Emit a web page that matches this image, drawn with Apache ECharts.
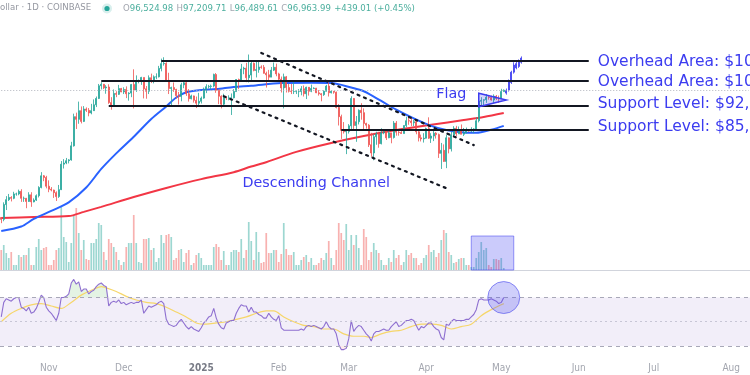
<!DOCTYPE html>
<html><head><meta charset="utf-8">
<script src="https://cdn.jsdelivr.net/npm/echarts@6/dist/echarts.min.js"></script>
<style>html,body{margin:0;padding:0;background:#fff}#c{width:750px;height:375px}</style>
</head><body><div id="c"></div>
<script>
// ---- axis categories / tick labels ----
const startDay = Date.UTC(2024, 9, 13);
const dayCount = 300;
const tickLabels = [['2024-11-01','Nov'],['2024-12-01','Dec'],['2025-01-01','2025'],['2025-02-01','Feb'],['2025-03-01','Mar'],['2025-04-01','Apr'],['2025-05-01','May'],['2025-06-01','Jun'],['2025-07-01','Jul'],['2025-08-01','Aug']];

// ---- daily BTC/USD candles, thousands of USD, from 2024-10-13 to 2025-05-02 ----
const firstOpen = 63.2;
const closes = [
62.8,66.0,67.1,67.6,67.4,68.4,68.4,69.0,67.4,67.4,66.7,68.2,66.6,67.0,68.0,69.9,72.7,72.3,70.2,
69.5,69.3,68.7,67.8,69.4,75.6,75.9,76.5,76.7,80.4,88.7,87.9,90.5,87.3,91.0,90.6,89.8,90.5,92.3,94.3,98.4,98.9,97.7,98.0,93.0,91.9,95.9,95.6,97.5,96.4,
97.2,95.8,96.0,98.8,97.0,99.9,99.9,101.2,97.4,96.6,101.1,100.0,101.4,101.4,104.3,106.0,106.1,100.2,97.5,97.8,97.2,95.2,94.9,98.7,99.4,95.8,94.2,95.1,93.7,92.8,93.4,
94.4,96.9,98.1,98.2,98.3,102.2,96.9,95.0,92.5,94.7,94.5,94.5,94.5,96.5,100.5,99.9,104.1,104.4,101.1,102.0,106.1,103.6,103.9,104.8,104.7,102.6,102.1,101.3,103.7,104.7,102.4,
100.6,97.7,101.4,97.8,96.6,96.5,96.5,96.5,96.5,97.4,95.8,97.9,96.6,97.5,97.6,96.1,95.8,95.5,96.6,98.3,96.1,96.6,96.3,91.5,88.7,84.7,84.3,84.4,
86.0,94.3,86.1,87.2,90.6,89.9,86.7,86.2,80.7,78.5,82.9,83.7,81.0,84.0,84.3,82.6,84.0,82.7,86.8,84.2,84.1,83.8,86.1,87.5,87.4,86.9,87.2,84.3,82.6,82.3,82.5,
85.2,82.5,83.1,83.9,83.5,78.4,79.2,76.3,82.6,79.6,83.4,85.3,83.7,84.5,83.6,84.0,84.9,84.5,85.0,85.1,87.5,93.4,93.7,93.9,94.7,94.6,93.8,95.0,94.3,94.2,
96.5,96.964];
const highs = [
63.3,66.5,67.9,68.4,67.9,68.9,68.7,69.4,69.5,67.8,67.5,68.8,68.8,67.4,68.3,70.2,73.6,72.9,72.7,
71.6,70.0,69.4,69.0,70.5,76.4,76.9,77.2,76.9,81.5,89.6,89.9,93.3,91.8,91.9,91.5,91.3,92.6,94.0,94.9,99.0,99.6,99.0,98.6,98.9,94.7,97.2,96.6,98.7,97.7,
97.9,98.2,96.3,99.0,104.0,101.9,100.5,101.4,101.2,98.3,101.9,102.5,101.9,102.6,105.2,107.8,108.3,106.5,102.8,98.1,99.5,97.4,96.4,99.4,99.9,99.9,97.3,95.5,95.2,94.9,96.1,
94.9,97.8,98.9,98.7,98.8,102.5,102.7,97.3,95.3,95.8,94.9,95.3,95.9,97.3,100.6,100.8,105.9,104.9,106.3,109.3,107.2,106.4,106.8,107.1,105.4,105.5,103.2,103.8,104.8,106.4,106.0,
102.8,101.5,102.5,101.7,99.0,99.0,100.1,96.9,97.3,98.3,98.5,98.1,98.0,98.8,97.9,97.7,97.0,96.0,96.9,98.7,99.5,96.9,96.6,96.5,92.5,89.3,87.1,85.0,
86.5,95.0,94.4,88.9,90.9,92.8,91.2,86.9,86.5,84.0,83.6,84.3,84.3,85.3,84.6,85.0,84.7,84.0,87.4,87.4,84.8,84.5,86.1,88.7,88.5,88.3,87.8,87.5,84.6,83.5,83.9,
85.5,88.5,83.9,84.7,84.2,83.8,81.2,80.8,83.5,82.7,84.3,85.9,86.0,85.8,86.4,85.4,85.5,85.1,85.6,85.3,88.5,93.9,94.7,94.0,95.7,95.3,95.2,95.6,95.4,95.2,
97.4,97.21];
const lows = [
62.0,62.4,64.8,66.8,66.7,67.2,68.0,68.1,66.6,66.6,65.2,66.6,65.5,66.5,66.8,67.6,69.7,71.4,69.7,
68.8,69.0,67.5,66.8,67.5,69.3,74.5,75.6,75.8,76.5,80.2,85.1,86.6,86.7,87.1,90.1,88.8,89.4,90.4,91.6,94.1,97.2,97.3,95.8,92.6,90.8,91.8,94.7,95.4,96.3,
95.7,94.4,93.6,94.7,91.2,96.4,99.2,98.7,94.3,94.2,95.7,99.3,99.2,100.6,101.2,103.3,105.3,100.0,95.7,92.2,96.4,94.2,92.4,93.4,97.6,95.1,93.3,94.0,93.0,91.3,92.0,
92.7,94.2,96.0,97.5,97.3,97.9,96.1,92.5,91.2,92.2,93.8,93.7,89.2,94.3,96.5,97.3,99.9,102.3,99.6,99.5,100.1,103.3,101.2,102.8,104.2,102.5,97.8,100.3,101.3,103.4,101.6,
100.3,96.2,91.2,96.2,96.2,95.7,95.7,95.7,94.7,95.3,94.9,94.1,95.2,96.3,97.3,96.0,95.2,93.4,95.1,96.5,94.9,95.9,95.8,91.2,86.1,82.3,83.8,78.2,
83.8,85.1,85.1,81.5,86.4,87.8,84.7,85.2,80.1,77.5,76.6,80.7,79.9,80.8,83.6,82.0,82.5,81.1,82.4,83.2,83.2,83.7,83.8,85.6,86.3,85.9,85.9,83.6,81.6,81.6,81.3,
82.4,82.3,81.2,81.7,82.4,77.2,74.4,76.2,74.6,78.4,78.9,82.8,83.1,83.7,83.6,83.1,83.9,84.3,84.2,83.9,85.1,87.0,91.7,91.7,92.9,93.9,93.6,92.9,93.8,92.9,
94.2,96.49];
// relative daily volume
const volumes = [
20,25,17,12,18,5,5,15,13,15, 15,22,5,5,23,31,20,22,23,5, 5,10,20,22,63,33,28,8,27,55, 62,37,20,30,11,10,27,27,31,47,
45,18,10,31,27,23,18,10,5,8, 23,27,27,55,27,8,7,31,31,32, 20,22,8,12,35,27,35,36,33,10, 12,20,21,8,17,20,5,7,15,17,
12,5,5,5,5,23,26,23,10,19, 5,5,18,20,20,18,31,12,20,48, 29,10,38,18,7,8,37,17,17,20, 20,8,16,47,21,15,15,18,5,5,
10,13,15,8,12,5,5,7,12,10, 17,29,12,5,20,47,37,30,46,20, 35,25,35,22,5,41,33,10,18,27, 20,17,10,5,5,12,8,20,12,15,
5,8,20,15,17,12,12,5,7,12, 15,25,18,20,13,17,30,40,37,18, 15,7,8,11,12,12,5,5,3,3, 12,18,28,20,22,5,3,11,11,10, 12,2];
// RSI(14)
const rsi = [
54,66,69,68,67,69,70,70,62,61, 59,62,57,58,61,66,72,70,62,59, 57,54,51,57,70,70,71,73,82,85, 81,83,75,77,77,73,75,76,79,81,
82,80,79,63,66,67,66,68,65,66, 64,65,66,65,66,66,68,57,60,63, 62,63,64,66,67,65,52,48,47,46, 47,50,52,49,46,44,46,44,43,42,
45,49,51,54,55,61,53,48,45,44, 49,50,51,51,57,61,64,63,63,58, 62,58,58,56,55,53,53,57,54,52, 51,55,45,43,43,43,43,43,43,43,
44,43,46,47,46,47,46,45,44,46, 50,46,44,44,40,31,27,27,28,36, 51,42,45,47,46,43,40,38,34,40, 42,42,43,44,43,43,46,48,50,46,
47,49,51,51,52,51,47,43,46,45, 47,49,49,46,44,43,37,35,48,47, 50,52,51,51,51,51,52,52,54,56, 60,68,69,68,68,68,69,68,67,65, 66,70];
const rsiMA = [['2024-10-13',50],['2024-10-17',57],['2024-10-21',61],['2024-10-25',64],['2024-10-29',65],['2024-11-02',63],['2024-11-06',61],['2024-11-10',66],['2024-11-14',72],['2024-11-18',76],['2024-11-22',79],['2024-11-24',78],['2024-11-28',75],['2024-12-02',71],['2024-12-06',68],['2024-12-10',66],['2024-12-14',65],['2024-12-18',62],['2024-12-22',58],['2024-12-26',54],['2024-12-30',49],['2025-01-03',48],['2025-01-07',49],['2025-01-11',50],['2025-01-15',52],['2025-01-19',54],['2025-01-23',57],['2025-01-27',59],['2025-01-30',59],['2025-02-03',54],['2025-02-07',50],['2025-02-11',47],['2025-02-15',46],['2025-02-19',44],['2025-02-23',44],['2025-02-27',40],['2025-03-03',38],['2025-03-07',38],['2025-03-10',37],['2025-03-14',40],['2025-03-18',42],['2025-03-22',43],['2025-03-26',46],['2025-03-30',48],['2025-04-03',48],['2025-04-07',47],['2025-04-11',44],['2025-04-15',46],['2025-04-19',48],['2025-04-23',55],['2025-04-27',60],['2025-05-01',64],['2025-05-02',65]];
// moving averages of price (thousands USD)
const ma50 = [['2024-10-13',60.4],['2024-10-21',61.3],['2024-10-26',62.9],['2024-11-02',64.6],['2024-11-09',66.5],['2024-11-16',69.9],['2024-11-22',74.4],['2024-11-28',78.4],['2024-12-05',82.9],['2024-12-12',88.0],['2024-12-18',91.8],['2024-12-22',94.6],['2024-12-26',96.3],['2025-01-01',97.0],['2025-01-07',97.3],['2025-01-14',98.0],['2025-01-21',98.4],['2025-02-02',99.3],['2025-02-14',99.4],['2025-02-22',99.3],['2025-03-02',97.8],['2025-03-07',96.6],['2025-03-14',93.5],['2025-03-20',90.8],['2025-03-27',88.2],['2025-04-03',86.0],['2025-04-09',84.8],['2025-04-16',84.1],['2025-04-21',84.0],['2025-04-27',84.9],['2025-05-02',86.0]];
const ma200 = [['2024-10-13',63.1],['2024-10-26',63.3],['2024-11-09',63.5],['2024-11-15',64.4],['2024-11-22',65.5],['2024-12-05',67.7],['2024-12-18',69.8],['2025-01-01',71.9],['2025-01-14',73.6],['2025-01-21',75.0],['2025-01-26',75.9],['2025-02-08',78.8],['2025-02-22',81.2],['2025-03-07',83.1],['2025-03-20',84.8],['2025-04-03',86.3],['2025-04-16',87.7],['2025-04-24',88.6],['2025-05-02',89.8]];
// hand-drawn annotation candles after the last bar [date, open, close, low, high]
const drawnCandles = [['2025-05-03',96.0,96.9,95.5,97.5],['2025-05-04',97.0,99.7,96.5,100.5],['2025-05-05',99.5,103.0,99.0,103.5],['2025-05-06',103.0,105.5,102.5,106.5],['2025-05-07',104.5,106.0,104.0,106.8],['2025-05-08',105.0,107.0,104.5,107.5],['2025-05-09',106.5,108.0,106.0,108.6]];
// annotations
const lastClose = 96.964;
const levelLines = [['2024-12-16','2025-06-05',107,'Overhead Area: $107,000'],['2024-11-22','2025-06-05',100,'Overhead Area: $100,000'],['2024-11-25','2025-06-05',92,'Support Level: $92,000'],['2025-02-26','2025-06-05',85,'Support Level: $85,000']];
const channelLines = [[['2025-01-25',109.9],['2025-04-20',80.6]],[['2025-01-10',95.0],['2025-04-10',69.5]]];
const flagVertices = [['2025-04-22',95.95],['2025-04-22',91.7],['2025-05-03',93.8]];
const volumeBox = [['2025-04-19',34],['2025-05-06',0]];
const rsiCircle = [['2025-05-02',70]];
const textNotes = [['2025-02-16',71.0,'Descending Channel'],['2025-04-11',95.7,'Flag']];

// ---- build ----
const dates = [];
for (let i = 0; i < dayCount; i++) dates.push(new Date(startDay + i * 86400000).toISOString().slice(0, 10));
const tickMap = {}; tickLabels.forEach(t => tickMap[t[0]] = t[1]);
const candles = closes.map((c, i) => [dates[i], i === 0 ? firstOpen : closes[i - 1], c, lows[i], highs[i]]);
const UP = '#26a69a', DOWN = '#ef5350', NOTE = '#3c3cf0';
const volData = volumes.map((v, i) => ({ value: [dates[i], v], itemStyle: { color: candles[i][2] >= candles[i][1] ? 'rgba(38,166,154,0.45)' : 'rgba(239,83,80,0.45)' } }));
const rsiData = rsi.map((v, i) => [dates[i], v]);
const obData = rsi.map((v, i) => [dates[i], Math.max(v, 70)]);
const osData = rsi.map((v, i) => [dates[i], Math.min(v, 30)]);

const chart = echarts.init(document.getElementById('c'), null, { renderer: 'canvas' });
const labelFont = "'DejaVu Sans Condensed','Liberation Sans Narrow',Roboto,sans-serif";
const noteFont = "'DejaVu Sans',Verdana,sans-serif";
const levelOffsets = [1, 1, -2, -2];

const markLines = levelLines.map((l, k) => [
  { coord: [l[0], l[2]], lineStyle: { color: '#131722', width: 2, type: 'solid' },
    label: { show: true, position: 'end', distance: 9, formatter: l[3], color: NOTE, fontSize: 15.5, fontFamily: noteFont, offset: [0, levelOffsets[k]] } },
  { coord: [l[1], l[2]] }
]).concat(channelLines.map(c => [
  { coord: c[0], lineStyle: { color: '#131722', width: 2.2, type: [2, 5], cap: 'round' }, label: { show: false } },
  { coord: c[1] }
])).concat([[{ coord: [dates[0], lastClose], lineStyle: { color: '#b2b5be', width: 1, type: [1, 2] }, label: { show: false } }, { coord: [dates[dayCount - 1], lastClose] }]]);

const option = {
  animation: false,
  backgroundColor: '#ffffff',
  grid: [
    { left: 0, right: 0, top: 20, height: 250, outerBoundsMode: 'none' },
    { left: 0, right: 0, top: 170, height: 100, outerBoundsMode: 'none' },
    { left: 0, right: 0, top: 270.3, height: 85.1, outerBoundsMode: 'none' }
  ],
  xAxis: [
    { type: 'category', gridIndex: 0, data: dates, axisLine: { show: true, lineStyle: { color: '#d1d4dc', width: 1 } }, axisTick: { show: false }, axisLabel: { show: false }, splitLine: { show: false } },
    { type: 'category', gridIndex: 1, data: dates, show: false },
    { type: 'category', gridIndex: 2, data: dates, axisLine: { show: false }, axisTick: { show: false }, splitLine: { show: false },
      axisLabel: { show: true, margin: 8, interval: (idx, val) => tickMap[val] !== undefined, fontSize: 10, color: '#a3a6af', fontFamily: labelFont,
        formatter: v => tickMap[v] === '2025' ? '{y|2025}' : (tickMap[v] || ''), rich: { y: { fontSize: 10, color: '#787b86', fontWeight: 'bold', fontFamily: labelFont } } } }
  ],
  yAxis: [
    { type: 'log', logBase: 10, gridIndex: 0, min: 52.97, max: 122.75, show: false, splitLine: { show: false } },
    { type: 'value', gridIndex: 1, min: 0, max: 100, show: false },
    { type: 'value', gridIndex: 2, min: 22.2, max: 92.5, show: false }
  ],
  series: [
    { type: 'bar', xAxisIndex: 1, yAxisIndex: 1, data: volData, barWidth: 1.7, silent: true, z: 1 },
    { type: 'line', xAxisIndex: 0, yAxisIndex: 0, data: ma200, symbol: 'none', lineStyle: { color: '#f23645', width: 2 }, smooth: 0.3, silent: true, z: 3 },
    { type: 'line', xAxisIndex: 0, yAxisIndex: 0, data: ma50, symbol: 'none', lineStyle: { color: '#2962ff', width: 2 }, smooth: 0.3, silent: true, z: 3 },
    { type: 'candlestick', xAxisIndex: 0, yAxisIndex: 0, data: candles, encode: { x: 0, y: [1, 2, 3, 4] }, barWidth: 1.6, silent: true, z: 4,
      itemStyle: { color: UP, color0: DOWN, borderColor: UP, borderColor0: DOWN, borderColorDoji: UP, borderWidth: 0.8 },
      markLine: { silent: true, symbol: ['none', 'none'], animation: false, data: markLines },
      markPoint: { silent: true, symbol: 'circle', symbolSize: 1, itemStyle: { color: 'rgba(0,0,0,0)' },
        data: textNotes.map(t => ({ coord: [t[0], t[1]], label: { show: true, position: 'inside', formatter: t[2], color: NOTE, fontSize: 14.3, fontFamily: noteFont } })) } },
    { type: 'candlestick', xAxisIndex: 0, yAxisIndex: 0, data: drawnCandles, encode: { x: 0, y: [1, 2, 3, 4] }, barWidth: 1.6, silent: true, z: 4,
      itemStyle: { color: NOTE, color0: NOTE, borderColor: NOTE, borderColor0: NOTE, borderColorDoji: NOTE, borderWidth: 0.8 } },
    { type: 'custom', xAxisIndex: 0, yAxisIndex: 0, data: [0], silent: true, z: 5,
      renderItem: (p, api) => ({ type: 'polygon', shape: { points: flagVertices.map(v => api.coord(v)) }, style: { fill: 'rgba(60,60,240,0.22)', stroke: NOTE, lineWidth: 1.5 } }) },
    { type: 'custom', xAxisIndex: 1, yAxisIndex: 1, data: [0], silent: true, z: 6,
      renderItem: (p, api) => { const a = api.coord(volumeBox[0]), b = api.coord(volumeBox[1]);
        return { type: 'rect', shape: { x: a[0], y: a[1], width: b[0] - a[0], height: b[1] - a[1] }, style: { fill: 'rgba(70,70,240,0.28)', stroke: 'rgba(70,70,240,0.55)', lineWidth: 1 } }; } },
    { type: 'line', xAxisIndex: 2, yAxisIndex: 2, data: obData, symbol: 'none', lineStyle: { width: 0 }, areaStyle: { origin: 70, color: 'rgba(76,175,80,0.22)' }, silent: true, z: 2 },
    { type: 'line', xAxisIndex: 2, yAxisIndex: 2, data: osData, symbol: 'none', lineStyle: { width: 0 }, areaStyle: { origin: 30, color: 'rgba(242,54,69,0.15)' }, silent: true, z: 2 },
    { type: 'line', xAxisIndex: 2, yAxisIndex: 2, data: rsiMA, symbol: 'none', smooth: 0.3, lineStyle: { color: '#f6d66a', width: 1.2 }, silent: true, z: 3 },
    { type: 'line', xAxisIndex: 2, yAxisIndex: 2, data: rsiData, symbol: 'none', lineStyle: { color: '#8e6fd0', width: 1.1 }, silent: true, z: 4,
      markArea: { silent: true, itemStyle: { color: 'rgba(126,87,194,0.1)' }, data: [[{ yAxis: 30 }, { yAxis: 70 }]] },
      markLine: { silent: true, symbol: ['none', 'none'], label: { show: false },
        data: [{ yAxis: 70, lineStyle: { color: '#a8a8b8', type: [4, 4], width: 1 } }, { yAxis: 50, lineStyle: { color: '#c8c6d6', type: [2, 3], width: 1 } }, { yAxis: 30, lineStyle: { color: '#a8a8b8', type: [4, 4], width: 1 } }] } },
    { type: 'scatter', xAxisIndex: 2, yAxisIndex: 2, data: rsiCircle, symbol: 'circle', symbolSize: 32, silent: true, z: 6,
      itemStyle: { color: 'rgba(70,70,240,0.32)', borderColor: 'rgba(60,60,235,0.7)', borderWidth: 1 } }
  ],
  graphic: [
    { type: 'text', left: 0, top: 3, style: { text: 'ollar · 1D · COINBASE', fill: '#9598a1', fontSize: 9.5, fontFamily: labelFont } },
    { type: 'circle', shape: { cx: 107, cy: 8.5, r: 5 }, style: { fill: 'rgba(38,166,154,0.18)' } },
    { type: 'circle', shape: { cx: 107, cy: 8.5, r: 2.6 }, style: { fill: '#26a69a' } },
    { type: 'text', left: 123, top: 3, style: { text: '{g|O}{v|96,524.98} {g|H}{v|97,209.71} {g|L}{v|96,489.61} {g|C}{v|96,963.99} {v|+439.01 (+0.45%)}',
      rich: { g: { fill: '#a3a6af', fontSize: 9.5, fontFamily: labelFont }, v: { fill: '#4caf9e', fontSize: 9.5, fontFamily: labelFont } } } }
  ]
};
chart.setOption(option);
</script></body></html>
